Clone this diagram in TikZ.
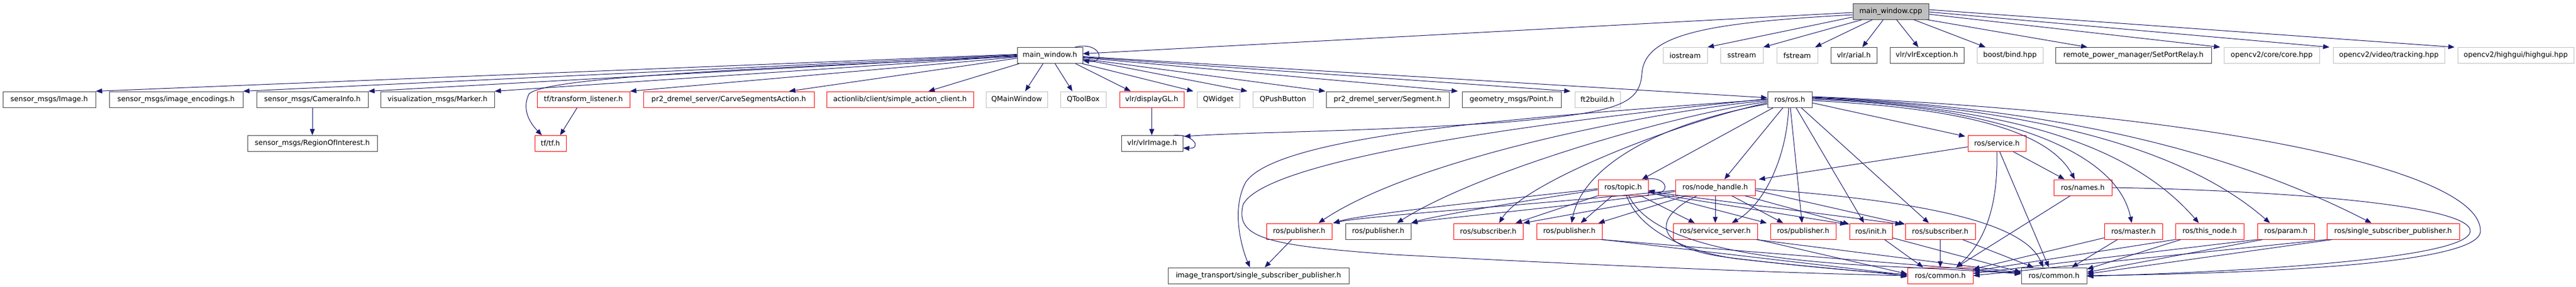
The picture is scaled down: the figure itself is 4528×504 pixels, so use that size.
\documentclass[tikz,border=0pt]{standalone}
\usepackage{fontspec}
\setmainfont{DejaVu Sans}
\usetikzlibrary{arrows.meta}
\definecolor{eblue}{HTML}{191970}
\definecolor{bgrey}{HTML}{BFBFBF}
\definecolor{nred}{HTML}{FF0000}
\definecolor{nblack}{HTML}{404040}
\begin{document}
\begin{tikzpicture}[x=1pt,y=-1pt,
  nbox/.style={draw=nblack, line width=1pt, fill=white, inner sep=0pt, minimum height=28pt, font=\fontsize{12.5}{15}\selectfont, text=black},
  rbox/.style={nbox, draw=nred},
  gbox/.style={nbox, draw=bgrey},
  edg/.style={draw=eblue, line width=1pt, -{Triangle[length=11pt,width=8.5pt]}}]
\useasboundingbox[fill=white] (0,0) rectangle (4528,504);

% row 0
\node[nbox, fill=bgrey, minimum width=133pt] (cpp) at (3323.5,20) {main\_window.cpp};
% row 1
\node[nbox, minimum width=115pt] (mwh) at (1845.5,97.5) {main\_window.h};
\node[gbox, minimum width=78pt] (iostream) at (2962,97.5) {iostream};
\node[gbox, minimum width=75pt] (sstream) at (3061.5,97.5) {sstream};
\node[gbox, minimum width=72pt] (fstream) at (3159,97.5) {fstream};
\node[nbox, minimum width=81pt] (arial) at (3258.5,97.5) {vlr/arial.h};
\node[nbox, minimum width=130pt] (vlrexc) at (3387,97.5) {vlr/vlrException.h};
\node[gbox, minimum width=116pt] (bind) at (3533,97.5) {boost/bind.hpp};
\node[nbox, minimum width=274pt] (spr) at (3750,97.5) {remote\_power\_manager/SetPortRelay.h};
\node[gbox, minimum width=168pt] (core) at (3993,97.5) {opencv2/core/core.hpp};
\node[gbox, minimum width=196pt] (track) at (4199,97.5) {opencv2/video/tracking.hpp};
\node[gbox, minimum width=204pt] (hg) at (4422,97.5) {opencv2/highgui/highgui.hpp};
% row 2
\node[nbox, minimum width=163pt] (img) at (86.5,175) {sensor\_msgs/Image.h};
\node[nbox, minimum width=235pt] (enc) at (309.5,175) {sensor\_msgs/image\_encodings.h};
\node[nbox, minimum width=196pt] (cam) at (549,175) {sensor\_msgs/CameraInfo.h};
\node[nbox, minimum width=200pt] (marker) at (769,175) {visualization\_msgs/Marker.h};
\node[rbox, minimum width=163pt] (tfl) at (1025.5,175) {tf/transform\_listener.h};
\node[rbox, minimum width=300pt] (carve) at (1281,175) {pr2\_dremel\_server/CarveSegmentsAction.h};
\node[rbox, minimum width=258pt] (sac) at (1582,175) {actionlib/client/simple\_action\_client.h};
\node[gbox, minimum width=108pt] (qmw) at (1787,175) {QMainWindow};
\node[gbox, minimum width=80pt] (qtb) at (1904,175) {QToolBox};
\node[rbox, minimum width=113pt] (dgl) at (2024.5,175) {vlr/displayGL.h};
\node[gbox, minimum width=75pt] (qw) at (2141.5,175) {QWidget};
\node[gbox, minimum width=106pt] (qpb) at (2255,175) {QPushButton};
\node[nbox, minimum width=216pt] (seg) at (2439,175) {pr2\_dremel\_server/Segment.h};
\node[nbox, minimum width=174pt] (pt) at (2657,175) {geometry\_msgs/Point.h};
\node[gbox, minimum width=80pt] (ft) at (2808,175) {ft2build.h};
\node[nbox, minimum width=78pt] (ros) at (3146,175) {ros/ros.h};
% row 3
\node[nbox, minimum width=228pt] (roi) at (549,252.5) {sensor\_msgs/RegionOfInterest.h};
\node[rbox, minimum width=55pt] (tf) at (967.5,252.5) {tf/tf.h};
\node[nbox, minimum width=108pt] (vimg) at (2025,252.5) {vlr/vlrImage.h};
\node[rbox, minimum width=102pt] (srv) at (3510,252.5) {ros/service.h};
% row 4
\node[rbox, minimum width=88pt] (topic) at (2853,330) {ros/topic.h};
\node[rbox, minimum width=140pt] (nh) at (3015,330) {ros/node\_handle.h};
\node[rbox, minimum width=102pt] (names) at (3661,330) {ros/names.h};
% row 5
\node[rbox, minimum width=115pt] (pubA) at (2283.5,407) {ros/publisher.h};
\node[nbox, minimum width=115pt] (pubB) at (2422.5,407) {ros/publisher.h};
\node[rbox, minimum width=122pt] (subC) at (2616,407) {ros/subscriber.h};
\node[rbox, minimum width=115pt] (pubD) at (2758.5,407) {ros/publisher.h};
\node[rbox, minimum width=148pt] (ss) at (3015,407) {ros/service\_server.h};
\node[rbox, minimum width=115pt] (pubE) at (3169.5,407) {ros/publisher.h};
\node[rbox, minimum width=75pt] (init) at (3288.5,407) {ros/init.h};
\node[rbox, minimum width=123pt] (subF) at (3410.5,407) {ros/subscriber.h};
\node[rbox, minimum width=102pt] (master) at (3750,407) {ros/master.h};
\node[rbox, minimum width=120pt] (thisn) at (3884,407) {ros/this\_node.h};
\node[rbox, minimum width=100pt] (param) at (4018,407) {ros/param.h};
\node[rbox, minimum width=233pt] (ssp) at (4206.5,407) {ros/single\_subscriber\_publisher.h};
% row 6
\node[nbox, minimum width=318pt] (itssp) at (2212,485) {image\_transport/single\_subscriber\_publisher.h};
\node[rbox, minimum width=115pt] (comR) at (3410.5,485) {ros/common.h};
\node[nbox, minimum width=115pt] (comB) at (3610.5,485) {ros/common.h};

% ---- edges from main_window.cpp
\draw[edg] ([yshift=-2]cpp.west) -- ([yshift=3]mwh.east);
\draw[edg] ([yshift=-6]cpp.west) .. controls (3000,40) and (2890,60) .. (2886,130) .. controls (2882,185) and (2840,198) .. (2646,215) .. controls (2400,232) and (2200,232) .. ([xshift=2,yshift=-2]vimg.north east);
\draw[edg] ([yshift=-10]cpp.west) -- (iostream.north east);
\draw[edg] ([xshift=-50]cpp.south) -- (sstream.north east);
\draw[edg] ([xshift=-32]cpp.south) -- ([xshift=-5]fstream.north east);
\draw[edg] ([xshift=-13]cpp.south) -- ([xshift=15]arial.north);
\draw[edg] ([xshift=10]cpp.south) -- ([xshift=-15]vlrexc.north);
\draw[edg] ([xshift=40]cpp.south) -- ([xshift=-43]bind.north);
\draw[edg] ([xshift=-4]cpp.south east) -- ([xshift=-81]spr.north);
\draw[edg] ([yshift=-5]cpp.east) -- ([xshift=-6]core.north west);
\draw[edg] ([yshift=-1]cpp.east) -- ([xshift=-6]track.north west);
\draw[edg] ([yshift=3]cpp.east) -- ([xshift=-5]hg.north west);

% ---- edges from main_window.h
\draw[edg] ([xshift=-14]mwh.north east) .. controls (1935,72) and (1945,112) .. ([yshift=-9]mwh.east);
\draw[edg] ([yshift=2]mwh.west) -- (img.north east);
\draw[edg] ([yshift=1]mwh.west) -- (enc.north east);
\draw[edg] (mwh.west) -- (cam.north east);
\draw[edg] ([yshift=-1]mwh.west) -- (marker.north east);
\draw[edg] ([yshift=-2]mwh.west) .. controls (1200,125) and (960,140) .. (930,165) .. controls (915,195) and (935,220) .. ([xshift=-15]tf.north);
\draw[edg] ([yshift=-3]mwh.west) -- (tfl.north east);
\draw[edg] ([yshift=-5]mwh.west) -- ([xshift=106]carve.north);
\draw[edg] ([xshift=4]mwh.south west) -- ([xshift=50]sac.north);
\draw[edg] ([xshift=46]mwh.south west) -- ([xshift=15]qmw.north);
\draw[edg] ([xshift=67]mwh.south west) -- ([xshift=-19]qtb.north);
\draw[edg] ([xshift=-13]mwh.south east) -- ([xshift=-37]dgl.north);
\draw[edg] ([xshift=-1]mwh.south east) -- ([xshift=-6]qw.north west);
\draw[edg] ([yshift=-7]mwh.east) -- ([xshift=-9]qpb.north west);
\draw[edg] ([yshift=-6]mwh.east) -- ([xshift=-1]seg.north west);
\draw[edg] ([yshift=-4]mwh.east) -- ([xshift=-7]pt.north west);
\draw[edg] ([yshift=-3]mwh.east) -- ([xshift=-7]ft.north west);
\draw[edg] ([yshift=-2]mwh.east) -- ([yshift=3]ros.west);

% ---- misc
\draw[edg] (cam.south) -- (roi.north);
\draw[edg] ([xshift=-11]tfl.south) -- ([xshift=17]tf.north);
\draw[edg] (dgl.south) -- ([xshift=-0.5]vimg.north);
\draw[edg] ([xshift=-16]vimg.north east) .. controls (2100,236) and (2112,262) .. ([yshift=-8]vimg.east);

% ---- edges from ros/ros.h
\draw[edg] ([xshift=-29]ros.south) -- ([xshift=33]topic.north);
\draw[edg] ([xshift=-12]ros.south) -- ([xshift=16]nh.north);
\draw[edg] ([xshift=-2]ros.south) .. controls (3140,280) and (3100,360) .. ([xshift=29]ss.north);
\draw[edg] ([xshift=1]ros.south) -- ([xshift=-2]pubE.north);
\draw[edg] ([xshift=11]ros.south) -- ([xshift=-12]init.north);
\draw[edg] ([xshift=20]ros.south) -- ([xshift=-20]subF.north);
\draw[edg] ([yshift=-6]ros.east) -- ([xshift=-4,yshift=-2]srv.north west);
\draw[edg] ([yshift=-2]ros.east) .. controls (3450,190) and (3600,230) .. ([xshift=-14]names.north);
\draw[edg] (ros.east) .. controls (3500,185) and (3720,260) .. ([xshift=-3]master.north);
\draw[edg] ([yshift=2]ros.east) .. controls (3550,190) and (3750,260) .. ([xshift=-19]thisn.north);
\draw[edg] ([yshift=3]ros.east) .. controls (3600,190) and (3850,270) .. ([xshift=-28]param.north);
\draw[edg] ([yshift=4]ros.east) .. controls (3650,190) and (3950,280) .. ([xshift=-38]ssp.north);
\draw[edg] ([yshift=5]ros.east) .. controls (3900,200) and (4362,300) .. (4360,407) .. controls (4358,470) and (3900,482) .. (comB.east);
\draw[edg] ([yshift=-2]ros.west) .. controls (2950,190) and (2500,270) .. ([xshift=34]pubA.north);
\draw[edg] ([yshift=-4]ros.west) .. controls (2950,200) and (2600,300) .. ([xshift=33]pubB.north);
\draw[edg] ([yshift=-6]ros.west) .. controls (2950,215) and (2680,320) .. ([xshift=19]subC.north);
\draw[edg] ([yshift=-8]ros.west) .. controls (2900,220) and (2780,300) .. ([xshift=4]pubD.north);
\draw[edg] (ros.west) .. controls (2700,205) and (2250,235) .. (2190,320) .. controls (2165,365) and (2180,430) .. ([xshift=-15]itssp.north);
\draw[edg] ([yshift=1]ros.west) .. controls (2600,225) and (2220,290) .. (2185,360) .. controls (2170,420) and (2230,432) .. (2450,448) .. controls (2900,472) and (3200,482) .. (comR.west);

% ---- edges from ros/topic.h
\draw[edg] ([xshift=-6]topic.north east) .. controls (2935,308) and (2935,345) .. ([yshift=-5]topic.east);
\draw[edg] ([yshift=-2]topic.west) .. controls (2700,345) and (2400,375) .. ([xshift=2]pubA.north east);
\draw[edg] ([yshift=-4]topic.west) .. controls (2700,350) and (2520,380) .. (pubB.north east);
\draw[edg] (topic.south west) -- ([xshift=48]subC.north);
\draw[edg] ([xshift=-19]topic.south) -- ([xshift=20]pubD.north);
\draw[edg] ([xshift=31]topic.south) -- ([xshift=-36]ss.north);
\draw[edg] ([yshift=-8]topic.east) -- ([xshift=-6]pubE.north west);
\draw[edg] ([yshift=-9]topic.east) -- ([xshift=-5,yshift=-2]init.north west);
\draw[edg] ([yshift=-7]topic.east) -- ([xshift=-6,yshift=-2]subF.north west);
\draw[edg] ([xshift=6]topic.south) .. controls (2880,400) and (2950,440) .. (3050,455) .. controls (3200,472) and (3300,480) .. ([yshift=2]comR.west);
\draw[edg] ([xshift=10]topic.south) .. controls (2900,420) and (3050,455) .. (3300,468) .. controls (3450,475) and (3500,478) .. ([yshift=3]comB.west);

% ---- edges from ros/node_handle.h
\draw[edg] ([xshift=-2]nh.south west) -- (subC.north east);
\draw[edg] ([xshift=19]nh.south west) -- ([xshift=-7]pubD.north east);
\draw[edg] ([yshift=-5]nh.west) .. controls (2700,360) and (2400,380) .. ([xshift=2]pubA.north east);
\draw[edg] ([yshift=-7]nh.west) .. controls (2750,365) and (2520,385) .. (pubB.north east);
\draw[edg] (nh.south) -- (ss.north);
\draw[edg] ([xshift=29]nh.south) -- ([xshift=-35]pubE.north);
\draw[edg] ([xshift=52]nh.south) -- ([yshift=-2]init.north west);
\draw[edg] ([yshift=-5]nh.east) -- ([yshift=-2]subF.north west);
\draw[edg] ([yshift=-2]nh.east) .. controls (3400,355) and (3560,395) .. ([xshift=-19]comB.north);
\draw[edg] ([xshift=-32]nh.south) .. controls (2900,385) and (2910,435) .. (3030,452) .. controls (3150,468) and (3300,478) .. ([yshift=-2]comR.west);

% ---- edges from ros/service.h
\draw[edg] ([yshift=-6]srv.west) -- ([xshift=6]nh.north east);
\draw[edg] ([xshift=29]srv.south) -- ([xshift=-32]names.north);
\draw[edg] (srv.south) .. controls (3512,350) and (3495,420) .. ([xshift=28]comR.north);
\draw[edg] ([xshift=5]srv.south) -- ([xshift=-9]comB.north);

% ---- edges from ros/names.h
\draw[edg] ([xshift=-22]names.south) -- ([xshift=28]comR.north);
\draw[edg] (names.east) .. controls (4000,335) and (4345,360) .. (4342,407) .. controls (4340,455) and (3950,478) .. ([yshift=-1]comB.east);

% ---- row 5 to row 6
\draw[edg] ([xshift=-13]pubA.south) -- ([xshift=11]itssp.north);
\draw[edg] (pubD.south east) -- ([yshift=1]comR.west);
\draw[edg] ([xshift=-3]pubD.south east) -- ([yshift=4]comB.west);
\draw[edg] (ss.south east) -- ([yshift=3]comR.west);
\draw[edg] ([xshift=-3]ss.south east) -- ([yshift=5]comB.west);
\draw[edg] ([xshift=24]init.south) -- ([xshift=-30]comR.north);
\draw[edg] ([yshift=3]init.south east) -- ([yshift=6]comB.west);
\draw[edg] (subF.south) -- (comR.north);
\draw[edg] ([xshift=39]subF.south) -- ([xshift=-36]comB.north);
\draw[edg] ([yshift=3]master.south west) -- ([yshift=-3]comR.north east);
\draw[edg] ([xshift=-28]master.south) -- ([xshift=31]comB.north);
\draw[edg] (thisn.south west) -- ([yshift=8]comR.east);
\draw[edg] ([xshift=10]thisn.south west) -- ([yshift=-3]comB.north east);
\draw[edg] (param.south west) -- ([yshift=4]comR.east);
\draw[edg] ([xshift=10]param.south west) -- ([yshift=6]comB.east);
\draw[edg] (ssp.south west) -- (comR.east);
\draw[edg] ([xshift=10]ssp.south west) -- ([yshift=3]comB.east);
\end{tikzpicture}
\end{document}
